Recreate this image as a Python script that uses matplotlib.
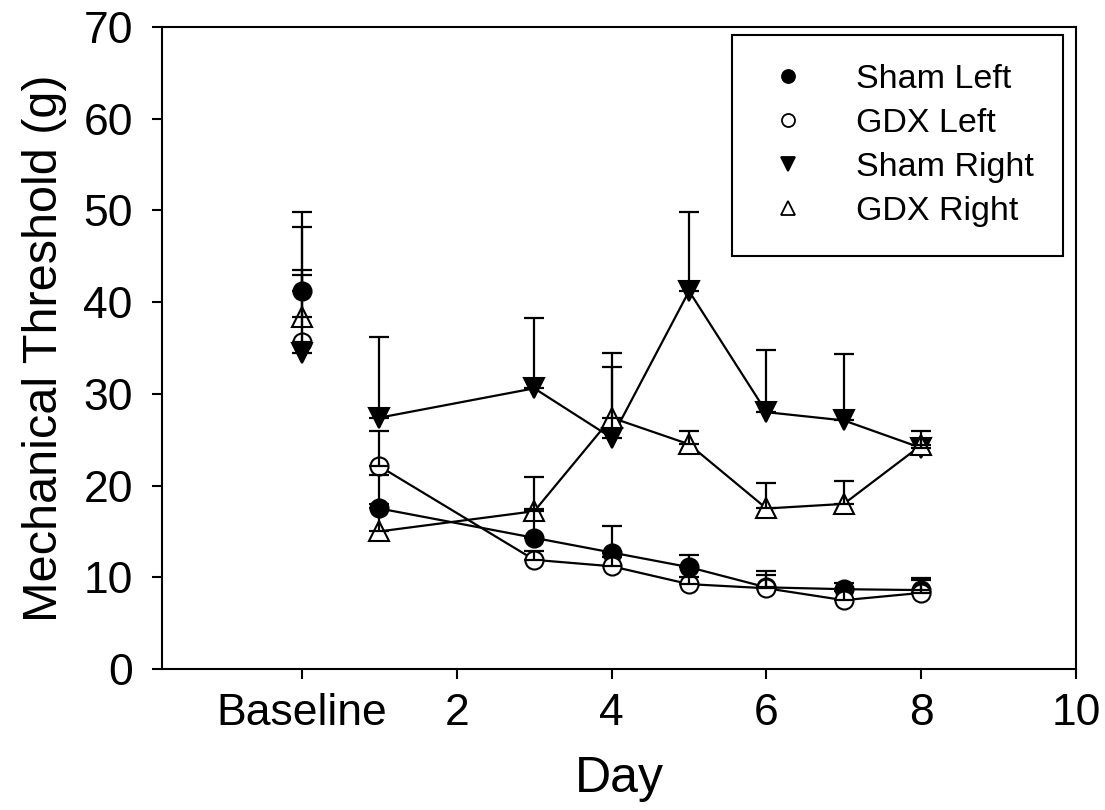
import matplotlib
matplotlib.use("Agg")
import matplotlib.pyplot as plt
import numpy as np

plt.rcParams['font.family'] = ['Liberation Sans', 'DejaVu Sans']

# x positions: 0 = Baseline, then days
days = [1, 3, 4, 5, 6, 7, 8]
baseline_x = 0

sham_left_base, sham_left_base_err = 41.2, 8.6
gdx_left_base, gdx_left_base_err = 35.6, 7.9
sham_right_base, sham_right_base_err = 34.5, 8.5
gdx_right_base, gdx_right_base_err = 38.4, 9.8

sham_left = [17.5, 14.3, 12.7, 11.1, 8.9, 8.7, 8.6]
sham_left_err = [3.6, 3.1, 2.9, 1.3, 1.8, 0.65, 1.3]
gdx_left = [22.1, 11.9, 11.2, 9.25, 8.8, 7.5, 8.3]
gdx_left_err = [3.9, 1.0, 1.0, 0.8, 1.4, 1.0, 1.4]
sham_right = [27.4, 30.6, 25.2, 41.2, 28.0, 27.1, 24.1]
sham_right_err = [8.8, 7.7, 7.7, 8.6, 6.8, 7.2, 1.0]
gdx_right = [15.0, 17.2, 27.4, 24.5, 17.5, 18.0, 24.4]
gdx_right_err = [3.0, 3.7, 7.0, 1.5, 2.8, 2.5, 1.6]

xtick_vals = [0, 2, 4, 6, 8, 10]
xtick_labels = ['Baseline', '2', '4', '6', '8', '10']
ytick_vals = [0, 10, 20, 30, 40, 50, 60, 70]

fig = plt.figure(figsize=(11.05, 8.10), dpi=100)
ax = fig.add_axes([0.1466, 0.1741, 0.8272, 0.7926])

series = [
    ("Sham Left", sham_left_base, sham_left_base_err, sham_left, sham_left_err, 'o', 'black'),
    ("GDX Left", gdx_left_base, gdx_left_base_err, gdx_left, gdx_left_err, 'o', 'white'),
    ("Sham Right", sham_right_base, sham_right_base_err, sham_right, sham_right_err, 'v', 'black'),
    ("GDX Right", gdx_right_base, gdx_right_base_err, gdx_right, gdx_right_err, '^', 'white'),
]

ms = {'o': 13, 'v': 14, '^': 14}
handles = []
for i, (name, b, be, vals, errs, mk, fc) in enumerate(series):
    z = 3 + i * 0.1
    ax.plot(days, vals, color='black', lw=1.6, zorder=2)
    ax.errorbar([baseline_x] + days, [b] + vals,
                yerr=[np.zeros(len(days) + 1), [be] + errs],
                fmt='none', ecolor='black', elinewidth=1.6, capsize=7,
                capthick=1.6, zorder=z + 1)
    ax.plot([baseline_x] + days, [b] + vals, linestyle='none', marker=mk,
            markersize=ms[mk], markerfacecolor=fc, markeredgecolor='black',
            markeredgewidth=1.5, zorder=z)
    h, = ax.plot([], [], linestyle='none', marker=mk,
                 markersize=ms[mk] * 0.72, markerfacecolor=fc,
                 markeredgecolor='black', markeredgewidth=1.3)
    handles.append((h, name))

ax.set_xlim(-1.81, 10)
ax.set_ylim(0, 70)
ax.set_xticks(xtick_vals)
ax.set_xticklabels(xtick_labels)
ax.set_yticks(ytick_vals)

for s in ax.spines.values():
    s.set_linewidth(1.5)
ax.tick_params(direction='out', length=7, width=1.5, labelsize=32)
ax.tick_params(axis='y', pad=14)
ax.tick_params(axis='x', pad=10)

ax.set_xlabel('Day', fontsize=36, labelpad=16)
ax.set_ylabel('Mechanical Threshold (g)', fontsize=35, labelpad=12)

leg = ax.legend([h for h, _ in handles], [n for _, n in handles],
                loc='upper right', bbox_to_anchor=(0.986, 0.9875),
                fontsize=24.5, frameon=True, fancybox=False, framealpha=1,
                edgecolor='black', borderpad=0.85, labelspacing=0.38,
                handletextpad=1.2, borderaxespad=0, handlelength=1.6)
leg.get_frame().set_linewidth(1.5)

fig.savefig('out.png', dpi=100)
